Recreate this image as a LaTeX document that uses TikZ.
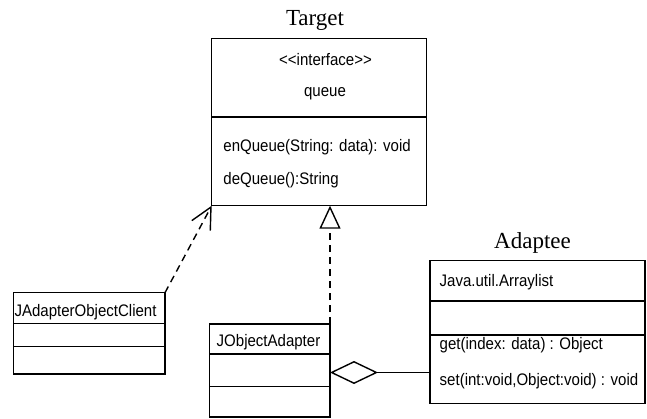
\documentclass[tikz,border=0pt]{standalone}
\usepackage{fontspec}
\setmainfont{Liberation Serif}
\newfontfamily\umlfont[FakeStretch=0.9]{Liberation Sans}
\usetikzlibrary{arrows.meta}
\begin{document}
\begin{tikzpicture}[x=1pt,y=-1pt, line width=1.4pt,
  umlbox/.style={draw, rectangle, inner sep=0pt, outer sep=0pt, anchor=north west},
  lbl/.style={font=\umlfont\fontsize{16.7}{18}\selectfont, inner sep=0pt, anchor=base west},
  clbl/.style={lbl, anchor=base},
  ttl/.style={font=\fontsize{23}{26}\selectfont, inner sep=0pt, anchor=base},
  dep/.style={dash pattern=on 7pt off 5pt},
]
\useasboundingbox (0,0) rectangle (647,419);

% Target
\node[ttl] (ttarget) at (315,26) {Target};
\node[umlbox, minimum width=215pt, minimum height=167.4pt] (target) at (211.7,38.3) {};
\draw (211.7,117) -- (426.7,117);
\node[clbl] (stereo) at (325.5,65.5) {<\kern0pt<interface>\kern0pt>};
\node[clbl] (tname) at (325,97) {queue};
\node[lbl] (enq) at (222.7,152) {enQueue(String: data): void};
\node[lbl] (deq) at (222.7,185) {deQueue():String};

% Client
\node[umlbox, minimum width=151.7pt, minimum height=81.3pt] (client) at (13.3,292.7) {};
\draw (13.3,323.3) -- (165,323.3);
\draw (13.3,346.7) -- (165,346.7);
\node[lbl] (cname) at (13.8,316.7) {JAdapterObjectClient};

% Adapter
\node[umlbox, minimum width=120.7pt, minimum height=93pt] (adapter) at (209.3,324) {};
\draw (209.3,354) -- (330,354);
\draw (209.3,386.7) -- (330,386.7);
\node[lbl] (aname) at (216,346.7) {JObjectAdapter};

% Adaptee
\node[ttl] (tadaptee) at (532.5,248.3) {Adaptee};
\node[umlbox, minimum width=215pt, minimum height=142.6pt] (adaptee) at (430,260.7) {};
\draw (430,301) -- (645,301);
\draw (430,335) -- (645,335);
\node[lbl] (jname) at (439,286.7) {Java.util.Arraylist};
\node[lbl] (getm) at (439,349.3) {get(index: data) : Object};
\node[lbl] (setm) at (439,385) {set(int:void,Object:void) : void};

% Connectors
\draw[dep, -{Straight Barb[length=21pt,width=21pt]}] (client.north east) -- (target.south west);
\draw[dep, -{Triangle[open,length=23pt,width=21pt]}] (adapter.north east) -- (adapter.north east |- target.south);
\coordinate (aggy) at (0,372.5);
\draw[{Diamond[open,length=48pt,width=23pt]}-] (adapter.east |- aggy) -- (adaptee.west |- aggy);
\end{tikzpicture}
\end{document}
